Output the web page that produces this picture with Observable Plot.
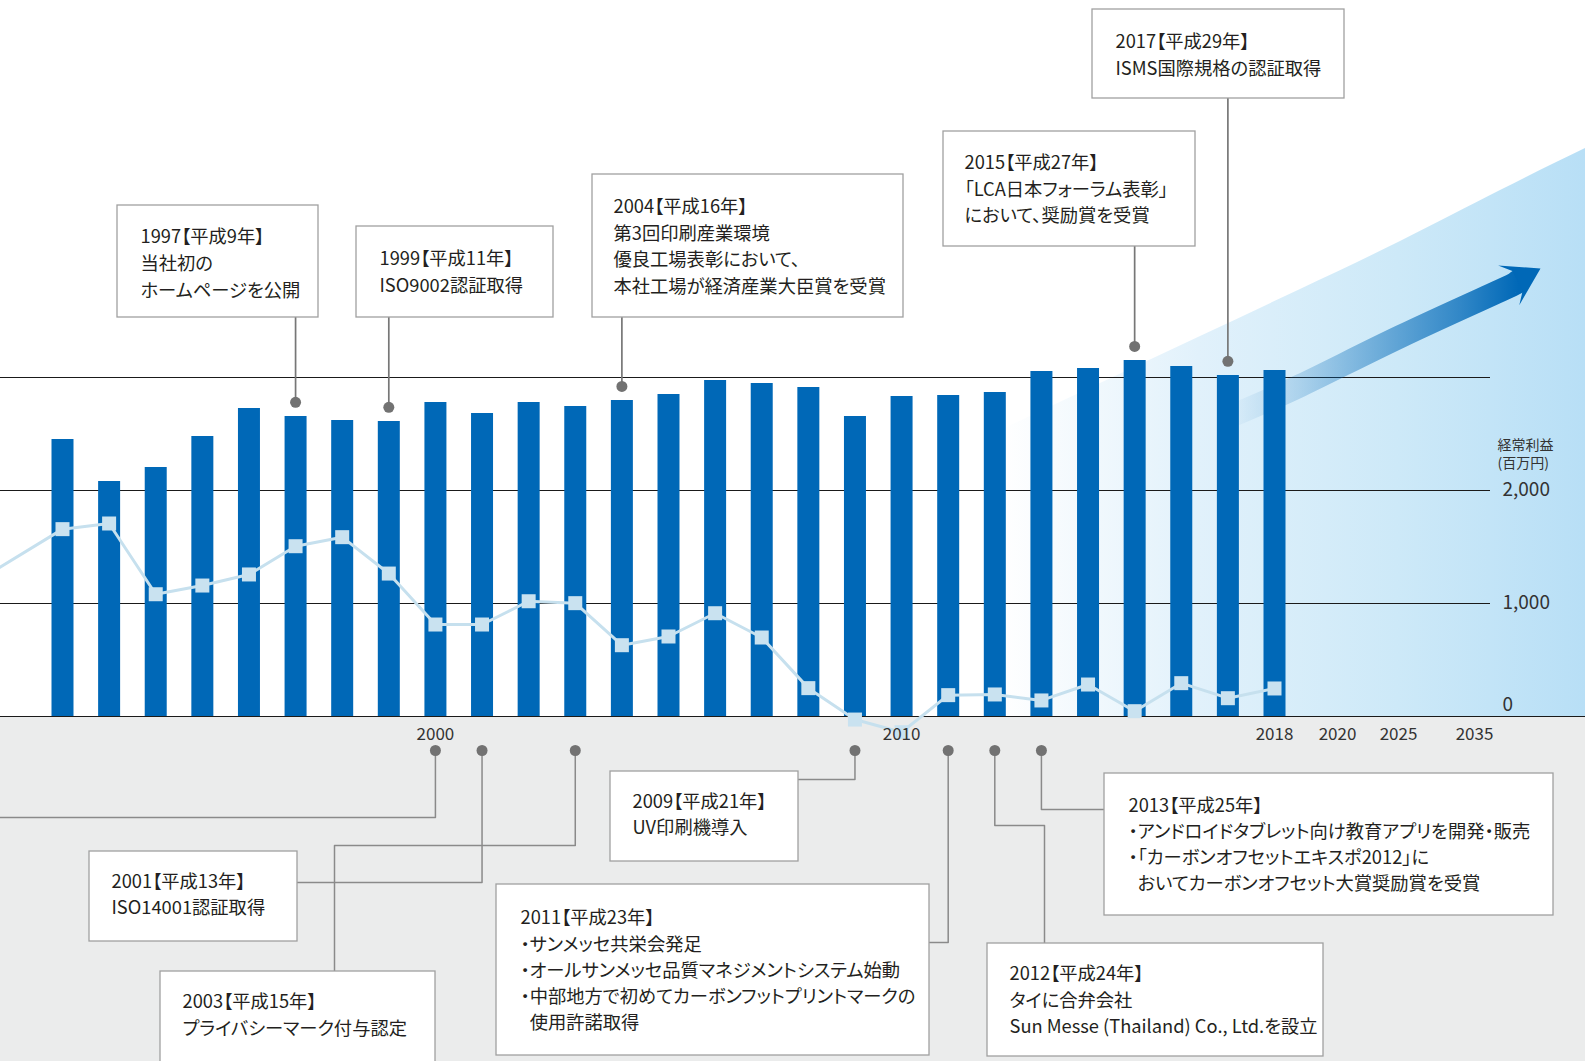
<!DOCTYPE html>
<html><head><meta charset="utf-8">
<script src="https://cdn.jsdelivr.net/npm/d3@7"></script>
<script src="https://cdn.jsdelivr.net/npm/@observablehq/plot@0.6"></script>
<style>html,body{margin:0;padding:0;overflow:hidden;background:#fff}
#chart svg text{font-feature-settings:"palt" 1;}</style>
</head><body><div id="chart"></div>
<script>
// ---------------- data ----------------
const years = [1992,1993,1994,1995,1996,1997,1998,1999,2000,2001,2002,2003,2004,2005,2006,2007,2008,2009,2010,2011,2012,2013,2014,2015,2016,2017,2018];
const sales = [2451,2080,2204,2478,2726,2655,2619,2611,2779,2681,2779,2743,2796,2850,2973,2947,2912,2655,2832,2841,2867,3053,3080,3150,3097,3018,3062];
const profitYears = [1990,1992,1993,1994,1995,1996,1997,1998,1999,2000,2001,2002,2003,2004,2005,2006,2007,2008,2009,2010,2011,2012,2013,2014,2015,2016,2017,2018];
const profit = [1155,1658,1708,1082,1159,1257,1507,1587,1265,814,814,1020,1003,631,708,914,699,251,-27,-139,189,195,142,283,47,295,162,248];
const axisYears = [2000,2010,2018,2020,2025,2035];
const gridValues = [1000,2000,3000];
const profitTicks = [1000,2000];
const profitTickLabels = ["1,000","2,000"];
const profitZeroLabel = "0";
const profitAxisTitle = ["経常利益","(百万円)"];

const topNoteYears = [1997,1999,2004,2015,2017];
const topNoteLines = [
  ["1997【平成9年】","当社初の","ホームページを公開"],
  ["1999【平成11年】","ISO9002認証取得"],
  ["2004【平成16年】","第3回印刷産業環境","優良工場表彰において、","本社工場が経済産業大臣賞を受賞"],
  ["2015【平成27年】","「LCA日本フォーラム表彰」","において、奨励賞を受賞"],
  ["2017【平成29年】","ISMS国際規格の認証取得"]
];
const bottomNoteYears = [2000,2001,2003,2009,2011,2012,2013];
const bottomNoteLines = [
  [],
  ["2001【平成13年】","ISO14001認証取得"],
  ["2003【平成15年】","プライバシーマーク付与認定"],
  ["2009【平成21年】","UV印刷機導入"],
  ["2011【平成23年】","・サンメッセ共栄会発足","・オールサンメッセ品質マネジメントシステム始動","・中部地方で初めてカーボンフットプリントマークの","\u2002使用許諾取得"],
  ["2012【平成24年】","タイに合弁会社","Sun Messe (Thailand) Co., Ltd.を設立"],
  ["2013【平成25年】","・アンドロイドタブレット向け教育アプリを開発・販売","・「カーボンオフセットエキスポ2012」に","\u2002おいてカーボンオフセット大賞奨励賞を受賞"]
];

// ---------------- layout (pixels) ----------------
const W = 1585, H = 1061;
const xDomain = [1990.67, 2018, 2020, 2025, 2035, 2050];
const xRange  = [0, 1274, 1337, 1398, 1474, 1585];
const yDomain = [-3053.1, 6336.3];
const px2x = d3.scaleLinear().domain(xRange).range(xDomain);
const px2y = d3.scaleLinear().domain([H, 0]).range(yDomain);

const topLayout = [
  {box:[117,205,318,317], tx:140, ty:237, gap:27},
  {box:[356,226,553,317], tx:379, ty:259, gap:27},
  {box:[592,174,903,317], tx:613, ty:207, gap:26.5},
  {box:[943,131,1195,246], tx:964, ty:163, gap:26.5},
  {box:[1092,9,1344,98], tx:1115, ty:42, gap:26.5}
];
const bottomLayout = [
  {box:null, path:[[null,817],[-5,817]]},
  {box:[89,851,297,941], tx:111, ty:882, gap:26, path:[[null,882],[297,882]]},
  {box:[160,971,435,1075], tx:182, ty:1002, gap:27, path:[[null,845],[334,845],[334,971]]},
  {box:[610,771,798,861], tx:632, ty:802, gap:26, path:[[null,779],[798,779]]},
  {box:[496,884,929,1055], tx:520, ty:918, gap:26.2, path:[[null,942],[929,942]]},
  {box:[987,943,1323,1056], tx:1009, ty:974, gap:26.5, path:[[null,825],[1044,825],[1044,943]]},
  {box:[1104,773,1553,915], tx:1128, ty:806, gap:26, path:[[null,809],[1104,809]]}
];
const bottomDotPx = 750;
const dotOffset = 125;

// decorative growth area and arrow (pixels)
const areaPx = [[1000,430],[1100,383],[1200,336],[1300,289],[1400,241],[1500,190],[1585,148]];
const arrowPx = [[1225,418],[1300,385],[1400,336],[1500,290],[1517,281]];
const arrowTipPx = [1540,268];

// ---------------- derived tables ----------------
const bars = years.map((y,i)=>({year:y, value:sales[i]}));
const prof = profitYears.map((y,i)=>({year:y, value:profit[i]}));
const salesOf = y => sales[years.indexOf(y)];

const boxes = [], texts = [], leaders = [], noteDots = [];
topNoteYears.forEach((yr,i)=>{
  const L = topLayout[i];
  boxes.push({x1:px2x(L.box[0]), x2:px2x(L.box[2]), y1:px2y(L.box[3]), y2:px2y(L.box[1])});
  topNoteLines[i].forEach((t,j)=>texts.push({t, x:px2x(L.tx), y:px2y(L.ty + j*L.gap)}));
  const dy = salesOf(yr) + dotOffset;
  leaders.push({id:"t"+yr, x:yr, y:dy, top:true});
  leaders.push({id:"t"+yr, x:yr, y:px2y(L.box[3]), top:true});
  noteDots.push({x:yr, y:dy});
});
bottomNoteYears.forEach((yr,i)=>{
  const L = bottomLayout[i];
  if (L.box) {
    boxes.push({x1:px2x(L.box[0]), x2:px2x(L.box[2]), y1:px2y(L.box[3]), y2:px2y(L.box[1])});
    bottomNoteLines[i].forEach((t,j)=>texts.push({t, x:px2x(L.tx), y:px2y(L.ty + j*L.gap)}));
  }
  leaders.push({id:"b"+yr, x:yr, y:px2y(bottomDotPx), top:false});
  L.path.forEach(p=>leaders.push({id:"b"+yr, x: p[0]===null ? yr : px2x(p[0]), y:px2y(p[1]), top:false}));
  noteDots.push({x:yr, y:px2y(bottomDotPx)});
});

const areaData = areaPx.map(p=>({x:px2x(p[0]), y:px2y(p[1])}));
const arrowData = arrowPx.map(p=>({x:px2x(p[0]), y:px2y(p[1])}));
const arrowTip = [{x:px2x(arrowTipPx[0]), y:px2y(arrowTipPx[1])}];
const headSymbol = {draw(ctx){ ctx.moveTo(0,0); ctx.lineTo(-36,-22.5); ctx.lineTo(-26,-11); ctx.lineTo(-26,11); ctx.lineTo(-36,22.5); ctx.closePath(); }};

const gridEnd = px2x(1490);
const textColor = "#231f20";

const defs = () => {
  const d = d3.create("svg:defs");
  const g = d.append("linearGradient").attr("id","areaGrad").attr("x1",0).attr("x2",1).attr("y1",0).attr("y2",0);
  [[0,"#ffffff"],[0.34,"#e1f1fb"],[0.68,"#cde9f8"],[1,"#b8dff6"]].forEach(([o,c])=>g.append("stop").attr("offset",o).attr("stop-color",c));
  const a = d.append("linearGradient").attr("id","arrowGrad").attr("x1",0).attr("x2",1).attr("y1",0).attr("y2",0);
  [[0,0],[0.25,0.2],[0.55,0.5],[0.8,0.75],[1,1]].forEach(([o,op])=>a.append("stop").attr("offset",o).attr("stop-color","#0068b7").attr("stop-opacity",op));
  return d.node();
};

const chart = Plot.plot({
  width: W, height: H, margin: 0,
  x: {type:"linear", domain:xDomain, range:xRange, axis:null},
  y: {type:"linear", domain:yDomain, range:[H,0], axis:null},
  style: {fontFamily:"'Noto Sans CJK JP', 'Noto Sans', sans-serif", background:"#fff", color:textColor},
  marks: [
    defs,
    Plot.rect([0], {x1:xDomain[0]-1, x2:xDomain[xDomain.length-1]+1, y1:yDomain[0]-100, y2:0, fill:"#ebecec"}),
    Plot.areaY(areaData, {x:"x", y1:0, y2:"y", fill:"url(#areaGrad)", curve:"natural"}),
    Plot.ruleY(gridValues, {x1:xDomain[0]-1, x2:gridEnd, stroke:"#1a1a1a", strokeWidth:1.2}),
    Plot.ruleY([0], {x1:xDomain[0]-1, x2:xDomain[xDomain.length-1]+1, stroke:"#1a1a1a", strokeWidth:1.2}),
    Plot.line(arrowData, {x:"x", y:"y", stroke:"url(#arrowGrad)", strokeWidth:23, curve:"natural"}),
    Plot.dot(arrowTip, {x:"x", y:"y", symbol:headSymbol, r:10, rotate:-28, fill:"#0068b7", stroke:"none"}),
    Plot.ruleX(bars, {x:"year", y1:0, y2:"value", stroke:"#0068b7", strokeWidth:22}),
    Plot.line(prof, {x:"year", y:"value", stroke:"#c6e0ee", strokeWidth:3}),
    Plot.dot(prof, {x:"year", y:"value", symbol:"square", r:7.9, fill:"#c9e2f0", stroke:"none"}),
    Plot.line(leaders.filter(d=>d.top), {x:"x", y:"y", z:"id", stroke:"#777", strokeWidth:1.7}),
    Plot.line(leaders.filter(d=>!d.top), {x:"x", y:"y", z:"id", stroke:"#8a8a8a", strokeWidth:1.5}),
    Plot.dot(noteDots, {x:"x", y:"y", r:5.5, fill:"#727272", stroke:"none"}),
    Plot.rect(boxes, {x1:"x1", x2:"x2", y1:"y1", y2:"y2", fill:"#fff", stroke:"#a0a0a0", strokeWidth:1.3}),
    Plot.text(texts, {x:"x", y:"y", text:"t", textAnchor:"start", lineAnchor:"middle", fontSize:18.3, fill:textColor}),
    Plot.text(axisYears, {x:d=>d, y:0, dy:18, text:d=>String(d), lineAnchor:"middle", fontSize:17, fill:"#333"}),
    Plot.text(profitTicks, {x:gridEnd, y:d=>d, dx:12, dy:-1, text:(d,i)=>profitTickLabels[i], textAnchor:"start", lineAnchor:"middle", fontSize:19, fill:"#333"}),
    Plot.text([0], {x:gridEnd, y:0, dx:12, dy:-12, text:()=>profitZeroLabel, textAnchor:"start", lineAnchor:"middle", fontSize:19, fill:"#333"}),
    Plot.text(profitAxisTitle, {x:gridEnd, y:(d,i)=>px2y(445+i*18), dx:7, text:d=>d, textAnchor:"start", lineAnchor:"middle", fontSize:14, fill:"#333"})
  ]
});
document.getElementById("chart").appendChild(chart);
</script>
</body></html>
